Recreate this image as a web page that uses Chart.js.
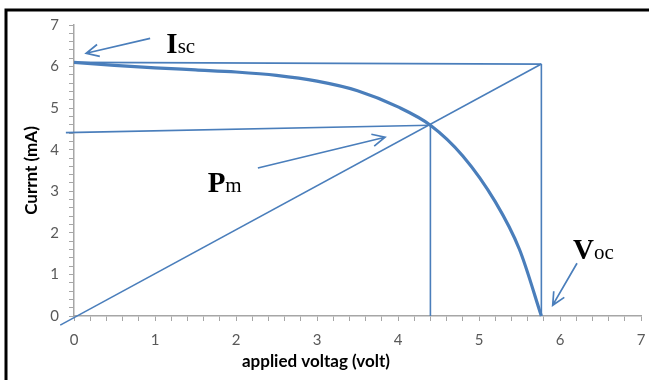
<!DOCTYPE html>
<html>
<head>
<meta charset="utf-8">
<script src="https://cdn.jsdelivr.net/npm/chart.js@4.4.1/dist/chart.umd.min.js"></script>
<style>
  html, body { margin: 0; padding: 0; background: #fff; }
  #wrap { width: 649px; height: 380px; position: relative; }
</style>
</head>
<body>
<div id="wrap"><canvas id="iv-chart"></canvas></div>
<script>
// I-V curve (applied voltage in volt, current in mA)
const voltage = [0, 0.5, 1, 1.5, 2, 2.5, 3, 3.5, 4, 4.4, 4.8, 5.2, 5.5, 5.77];
const current = [6.1, 6.03, 5.97, 5.92, 5.87, 5.79, 5.65, 5.42, 5.03, 4.59, 3.85, 2.75, 1.6, 0];

// construction lines
const lineIscX = [0, 5.77];     const lineIscY = [6.1, 6.06];
const lineVocX = [5.77, 5.77];  const lineVocY = [6.06, 0];
const lineDiagX = [-0.17, 5.77]; const lineDiagY = [-0.22, 6.06];
const lineImX = [-0.1, 4.4];    const lineImY = [4.41, 4.59];
const lineVmX = [4.4, 4.4];     const lineVmY = [4.59, 0];

// annotations: arrows (tail -> tip) and labels
const arrowFromX = [0.94, 2.27, 6.21];
const arrowFromY = [6.68, 3.56, 1.27];
const arrowToX = [0.15, 3.84, 5.91];
const arrowToY = [6.32, 4.30, 0.26];
const labelMain = ['I', 'P', 'V'];
const labelSub = ['sc', 'm', 'oc'];
const labelX = [1.14, 1.65, 6.16];
const labelY = [6.32, 2.98, 1.37];

const xTicks = [0, 1, 2, 3, 4, 5, 6, 7];
const yTicks = [0, 1, 2, 3, 4, 5, 6, 7];

const blue = '#4a7ebb';
const axisGray = '#a6a6a6';

function pts(xs, ys) {
  return xs.map((x, i) => ({ x: x, y: ys[i] }));
}

function guide(xs, ys) {
  return {
    data: pts(xs, ys),
    showLine: true,
    borderColor: blue,
    borderWidth: 1.6,
    pointRadius: 0,
    clip: false
  };
}

// draws the frame, arrows, Isc / Pm / Voc labels and the x title
const extras = {
  id: 'extras',
  afterDraw(chart) {
    const c = chart.ctx;
    const xs = chart.scales.x, ys = chart.scales.y;
    c.save();

    // frame
    c.strokeStyle = '#000';
    c.lineWidth = 3;
    c.beginPath();
    c.moveTo(6, 380);
    c.lineTo(6, 10);
    c.lineTo(649, 10);
    c.stroke();

    // arrows
    c.strokeStyle = blue;
    c.lineWidth = 1.7;
    for (let i = 0; i < arrowFromX.length; i++) {
      const x1 = xs.getPixelForValue(arrowFromX[i]), y1 = ys.getPixelForValue(arrowFromY[i]);
      const x2 = xs.getPixelForValue(arrowToX[i]), y2 = ys.getPixelForValue(arrowToY[i]);
      const a = Math.atan2(y2 - y1, x2 - x1);
      const len = 14, spread = 0.45;
      c.beginPath();
      c.moveTo(x1, y1);
      c.lineTo(x2, y2);
      c.moveTo(x2 - len * Math.cos(a - spread), y2 - len * Math.sin(a - spread));
      c.lineTo(x2, y2);
      c.lineTo(x2 - len * Math.cos(a + spread), y2 - len * Math.sin(a + spread));
      c.stroke();
    }

    // labels
    c.fillStyle = '#000';
    c.textBaseline = 'alphabetic';
    c.textAlign = 'left';
    for (let i = 0; i < labelMain.length; i++) {
      const px = xs.getPixelForValue(labelX[i]), py = ys.getPixelForValue(labelY[i]);
      c.font = 'bold 29px "Liberation Serif"';
      c.fillText(labelMain[i], px, py);
      const w = c.measureText(labelMain[i]).width;
      c.font = '21px "Liberation Serif"';
      c.fillText(labelSub[i], px + w, py);
    }

    // x axis title
    c.font = 'bold 17px Lato';
    c.textAlign = 'center';
    c.textBaseline = 'middle';
    c.fillText('applied voltag (volt)', 316, 362);
    c.restore();
  }
};

function tickLabel(list) {
  return function(value) {
    const r = Math.round(value);
    return (Math.abs(value - r) < 1e-6 && list.includes(r)) ? String(r) : '';
  };
}

new Chart(document.getElementById('iv-chart'), {
  type: 'scatter',
  data: {
    datasets: [
      {
        data: pts(voltage, current),
        showLine: true,
        borderColor: blue,
        borderWidth: 3.2,
        pointRadius: 0,
        cubicInterpolationMode: 'monotone',
        clip: false
      },
      guide(lineIscX, lineIscY),
      guide(lineVocX, lineVocY),
      guide(lineDiagX, lineDiagY),
      guide(lineImX, lineImY),
      guide(lineVmX, lineVmY)
    ]
  },
  options: {
    responsive: true,
    maintainAspectRatio: false,
    animation: false,
    layout: { padding: { left: 10, top: 25, right: 8, bottom: 0 } },
    plugins: { legend: { display: false }, tooltip: { enabled: false } },
    scales: {
      x: {
        type: 'linear',
        min: 0,
        max: 7,
        afterFit(scale) {
          scale.height = 64;
          scale.paddingLeft = 0;
          scale.paddingRight = 0;
        },
        ticks: {
          stepSize: 0.2,
          autoSkip: false,
          maxRotation: 0,
          padding: 10,
          color: '#595959',
          font: { family: 'Lato', size: 15 },
          callback: tickLabel(xTicks)
        },
        grid: { drawOnChartArea: false, drawTicks: true, tickLength: 5, color: axisGray },
        border: { display: true, color: axisGray, width: 1.5 }
      },
      y: {
        type: 'linear',
        min: 0,
        max: 7,
        afterFit(scale) {
          scale.width = 64;
          scale.paddingTop = 0;
          scale.paddingBottom = 0;
        },
        ticks: {
          stepSize: 0.2,
          autoSkip: false,
          padding: 10,
          color: '#595959',
          font: { family: 'Lato', size: 15 },
          callback: tickLabel(yTicks)
        },
        title: {
          display: true,
          text: 'Currnt (mA)',
          color: '#000',
          font: { family: 'Lato', size: 17, weight: 'bold' },
          padding: { top: 11, bottom: 0 }
        },
        grid: { drawOnChartArea: false, drawTicks: true, tickLength: 5, color: axisGray },
        border: { display: true, color: axisGray, width: 1.5 }
      }
    }
  },
  plugins: [extras]
});
</script>
</body>
</html>
